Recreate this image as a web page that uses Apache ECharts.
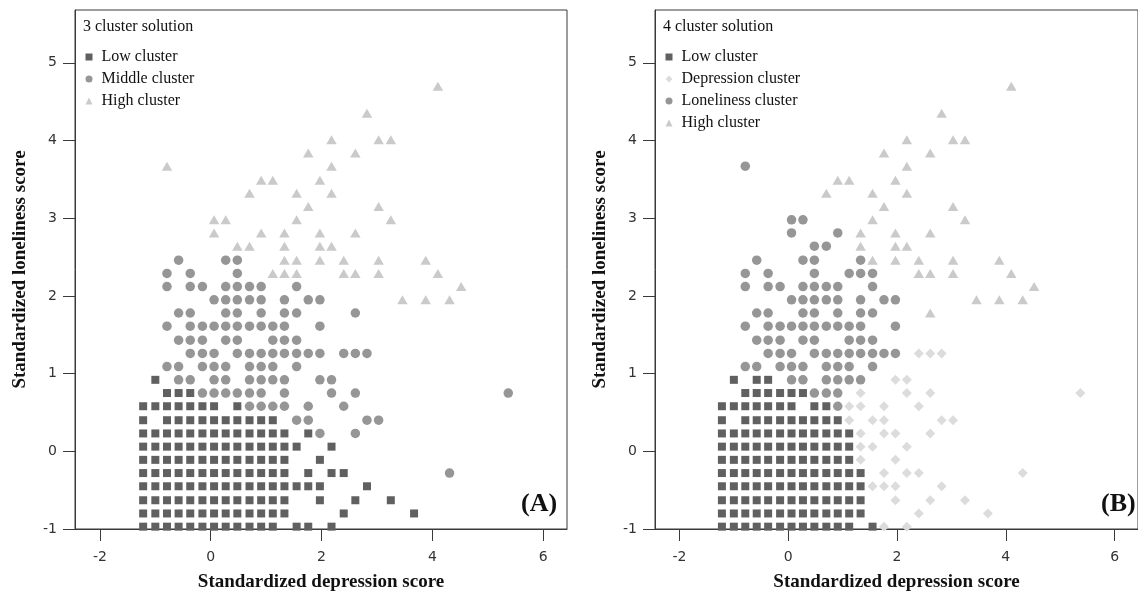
<!DOCTYPE html>
<html><head><meta charset="utf-8">
<script src="https://cdn.jsdelivr.net/npm/echarts@6/dist/echarts.min.js"></script>
<style>html,body{margin:0;padding:0;background:#fff}#c{width:1138px;height:600px}</style>
</head><body><div id="c"></div>
<script>
const xTicks=[-2,0,2,4,6];
const yTicks=[-1,0,1,2,3,4,5];
// rows: [loneliness score, [depression scores...]]
const lowA=[
[-0.97,[-1.22,-1.00,-0.79,-0.58,-0.37,-0.15,0.06,0.27,0.48,0.70,0.91,1.12,1.55,1.76,2.18]],
[-0.80,[-1.22,-1.00,-0.79,-0.58,-0.37,-0.15,0.06,0.27,0.48,0.70,0.91,1.12,1.33,2.40,3.67]],
[-0.63,[-1.22,-1.00,-0.79,-0.58,-0.37,-0.15,0.06,0.27,0.48,0.70,0.91,1.12,1.33,1.97,2.61,3.25]],
[-0.45,[-1.22,-1.00,-0.79,-0.58,-0.37,-0.15,0.06,0.27,0.48,0.70,0.91,1.12,1.33,1.55,1.76,1.97,2.82]],
[-0.28,[-1.22,-1.00,-0.79,-0.58,-0.37,-0.15,0.06,0.27,0.48,0.70,0.91,1.12,1.33,1.76,2.18,2.40]],
[-0.11,[-1.22,-1.00,-0.79,-0.58,-0.37,-0.15,0.06,0.27,0.48,0.70,0.91,1.12,1.33,1.97]],
[0.06,[-1.22,-1.00,-0.79,-0.58,-0.37,-0.15,0.06,0.27,0.48,0.70,0.91,1.12,1.33,1.55,2.18]],
[0.23,[-1.22,-1.00,-0.79,-0.58,-0.37,-0.15,0.06,0.27,0.48,0.70,0.91,1.12,1.33,1.76]],
[0.40,[-1.22,-0.79,-0.58,-0.37,-0.15,0.06,0.27,0.48,0.70,0.91,1.12]],
[0.58,[-1.22,-1.00,-0.79,-0.58,-0.37,-0.15,0.06,0.48]],
[0.75,[-0.79,-0.58,-0.37]],
[0.92,[-1.00]]
];
const middleA=[
[-0.28,[4.31]],
[0.23,[1.97,2.61]],
[0.40,[1.55,1.76,2.82,3.03]],
[0.58,[0.70,0.91,1.12,1.33,1.76,2.40]],
[0.75,[-0.15,0.06,0.27,0.48,0.70,0.91,1.33,2.18,2.61,5.37]],
[0.92,[-0.58,-0.37,0.06,0.27,0.70,0.91,1.12,1.33,1.97,2.18]],
[1.09,[-0.79,-0.58,-0.15,0.06,0.27,0.70,0.91,1.12,1.55]],
[1.26,[-0.37,-0.15,0.06,0.48,0.70,0.91,1.12,1.33,1.55,1.76,1.97,2.40,2.61,2.82]],
[1.43,[-0.58,-0.37,-0.15,0.27,0.48,1.12,1.33,1.55]],
[1.61,[-0.79,-0.37,-0.15,0.06,0.27,0.48,0.70,0.91,1.12,1.33,1.97]],
[1.78,[-0.58,-0.37,0.27,0.48,0.91,1.33,1.55,2.61]],
[1.95,[0.06,0.27,0.48,0.70,0.91,1.33,1.76,1.97]],
[2.12,[-0.79,-0.37,-0.15,0.27,0.48,0.70,0.91,1.55]],
[2.29,[-0.79,-0.37,0.48]],
[2.46,[-0.58,0.27,0.48]]
];
const highA=[
[1.95,[3.46,3.88,4.31]],
[2.12,[4.52]],
[2.29,[1.12,1.33,1.55,2.40,2.61,3.03,4.10]],
[2.46,[1.33,1.55,1.97,2.40,3.03,3.88]],
[2.64,[0.48,0.70,1.33,1.97,2.18]],
[2.81,[0.06,0.91,1.33,1.97,2.61]],
[2.98,[0.06,0.27,1.55,3.25]],
[3.15,[1.76,3.03]],
[3.32,[0.70,1.55,2.18]],
[3.49,[0.91,1.12,1.97]],
[3.67,[-0.79,2.18]],
[3.84,[1.76,2.61]],
[4.01,[2.18,3.03,3.25]],
[4.35,[2.82]],
[4.70,[4.10]]
];
const lowB=[
[-0.97,[-1.22,-1.00,-0.79,-0.58,-0.37,-0.15,0.06,0.27,0.48,0.70,0.91,1.12,1.55]],
[-0.80,[-1.22,-1.00,-0.79,-0.58,-0.37,-0.15,0.06,0.27,0.48,0.70,0.91,1.12,1.33]],
[-0.63,[-1.22,-1.00,-0.79,-0.58,-0.37,-0.15,0.06,0.27,0.48,0.70,0.91,1.12,1.33]],
[-0.45,[-1.22,-1.00,-0.79,-0.58,-0.37,-0.15,0.06,0.27,0.48,0.70,0.91,1.12,1.33]],
[-0.28,[-1.22,-1.00,-0.79,-0.58,-0.37,-0.15,0.06,0.27,0.48,0.70,0.91,1.12,1.33]],
[-0.11,[-1.22,-1.00,-0.79,-0.58,-0.37,-0.15,0.06,0.27,0.48,0.70,0.91,1.12]],
[0.06,[-1.22,-1.00,-0.79,-0.58,-0.37,-0.15,0.06,0.27,0.48,0.70,0.91,1.12]],
[0.23,[-1.22,-1.00,-0.79,-0.58,-0.37,-0.15,0.06,0.27,0.48,0.70,0.91,1.12]],
[0.40,[-1.22,-0.79,-0.58,-0.37,-0.15,0.06,0.27,0.48,0.70,0.91]],
[0.58,[-1.22,-1.00,-0.79,-0.58,-0.37,-0.15,0.06,0.48,0.70]],
[0.75,[-0.79,-0.58,-0.37,-0.15,0.06,0.27]],
[0.92,[-1.00,-0.58,-0.37]]
];
const depressionB=[
[-0.97,[1.76,2.18]],
[-0.80,[2.40,3.67]],
[-0.63,[1.97,2.61,3.25]],
[-0.45,[1.55,1.76,1.97,2.82]],
[-0.28,[1.76,2.18,2.40,4.31]],
[-0.11,[1.33,1.97]],
[0.06,[1.33,1.55,2.18]],
[0.23,[1.33,1.76,1.97,2.61]],
[0.40,[1.12,1.55,1.76,2.82,3.03]],
[0.58,[1.12,1.33,1.76,2.40]],
[0.75,[1.33,2.18,2.61,5.37]],
[0.92,[1.97,2.18]],
[1.26,[2.40,2.61,2.82]]
];
const lonelinessB=[
[0.58,[0.91]],
[0.75,[0.48,0.70,0.91]],
[0.92,[0.06,0.27,0.70,0.91,1.12,1.33]],
[1.09,[-0.79,-0.58,-0.15,0.06,0.27,0.70,0.91,1.12,1.55]],
[1.26,[-0.37,-0.15,0.06,0.48,0.70,0.91,1.12,1.33,1.55,1.76,1.97]],
[1.43,[-0.58,-0.37,-0.15,0.27,0.48,1.12,1.33,1.55]],
[1.61,[-0.79,-0.37,-0.15,0.06,0.27,0.48,0.70,0.91,1.12,1.33,1.97]],
[1.78,[-0.58,-0.37,0.27,0.48,0.91,1.33,1.55]],
[1.95,[0.06,0.27,0.48,0.70,0.91,1.33,1.76,1.97]],
[2.12,[-0.79,-0.37,-0.15,0.27,0.48,0.70,0.91,1.55]],
[2.29,[-0.79,-0.37,0.48,1.12,1.33,1.55]],
[2.46,[-0.58,0.27,0.48,1.33]],
[2.64,[0.48,0.70]],
[2.81,[0.06,0.91]],
[2.98,[0.06,0.27]],
[3.67,[-0.79]]
];
const highB=[
[1.78,[2.61]],
[1.95,[3.46,3.88,4.31]],
[2.12,[4.52]],
[2.29,[2.40,2.61,3.03,4.10]],
[2.46,[1.55,1.97,2.40,3.03,3.88]],
[2.64,[1.33,1.97,2.18]],
[2.81,[1.33,1.97,2.61]],
[2.98,[1.55,3.25]],
[3.15,[1.76,3.03]],
[3.32,[0.70,1.55,2.18]],
[3.49,[0.91,1.12,1.97]],
[3.67,[2.18]],
[3.84,[1.76,2.61]],
[4.01,[2.18,3.03,3.25]],
[4.35,[2.82]],
[4.70,[4.10]]
];

function flat(rows){const out=[];rows.forEach(r=>r[1].forEach(x=>out.push([x,r[0]])));return out;}

const C_LOW='#606060', C_MID='#969696', C_HIGH='#cacaca', C_DEP='#dcdcdc';
const SERIF='Liberation Serif, Times New Roman, serif';
const SANS='DejaVu Sans, sans-serif';
const frame='#3a3a3a';

function xAx(i){return {type:'value',gridIndex:i,min:-2.45,max:6.43,
  name:'Standardized depression score',nameLocation:'middle',nameGap:44,
  nameTextStyle:{fontFamily:SERIF,fontWeight:'bold',fontSize:19,color:'#111'},
  axisLine:{show:true,onZero:false,lineStyle:{color:frame,width:1}},
  axisTick:{show:true,length:12,inside:false,customValues:xTicks,lineStyle:{color:frame}},
  axisLabel:{customValues:xTicks,margin:21,fontFamily:SANS,fontSize:14,color:'#333'},
  splitLine:{show:false}};}
function yAx(i){return {type:'value',gridIndex:i,min:-1,max:5.68,
  name:'Standardized loneliness score',nameLocation:'middle',nameGap:45,
  nameTextStyle:{fontFamily:SERIF,fontWeight:'bold',fontSize:19,color:'#111'},
  axisLine:{show:true,onZero:false,lineStyle:{color:frame,width:1}},
  axisTick:{show:true,length:12,inside:false,customValues:yTicks,lineStyle:{color:frame}},
  axisLabel:{customValues:yTicks,margin:18,fontFamily:SANS,fontSize:14,color:'#333'},
  splitLine:{show:false}};}

function sc(name,rows,gi,symbol,size,color){
  return {name:name,type:'scatter',xAxisIndex:gi,yAxisIndex:gi,symbol:symbol,symbolSize:size,
    itemStyle:{color:color,opacity:1},emphasis:{disabled:true},data:flat(rows)};
}

function legend(left,names){
  return {orient:'vertical',left:left,top:49,padding:0,itemWidth:7,itemHeight:7,itemGap:6,
    data:names,selectedMode:false,
    textStyle:{fontFamily:SERIF,fontSize:16,color:'#111',lineHeight:16,padding:[0,0,0,4]}};
}

const chart=echarts.init(document.getElementById('c'),null,{renderer:'canvas'});
chart.setOption({
  animation:false,
  backgroundColor:'#fff',
  grid:[
    {left:75,top:10,width:492,height:519,show:true,borderColor:frame,borderWidth:1,backgroundColor:'transparent'},
    {left:655,top:10,width:492,height:519,show:true,borderColor:frame,borderWidth:1,backgroundColor:'transparent'}
  ],
  title:[
    {text:'3 cluster solution',left:83,top:19,padding:0,textStyle:{fontFamily:SERIF,fontWeight:'normal',fontSize:16,color:'#111'}},
    {text:'4 cluster solution',left:663,top:19,padding:0,textStyle:{fontFamily:SERIF,fontWeight:'normal',fontSize:16,color:'#111'}},
    {text:'(A)',left:521,top:491,padding:0,textStyle:{fontFamily:SERIF,fontWeight:'bold',fontSize:26,color:'#111'}},
    {text:'(B)',left:1101,top:491,padding:0,textStyle:{fontFamily:SERIF,fontWeight:'bold',fontSize:26,color:'#111'}}
  ],
  legend:[
    legend(85.5,['Low cluster','Middle cluster','High cluster']),
    legend(665.5,['Low cluster','Depression cluster','Loneliness cluster','High cluster'])
  ],
  xAxis:[xAx(0),xAx(1)],
  yAxis:[yAx(0),yAx(1)],
  series:[
    sc('Low cluster',lowA,0,'rect',8,C_LOW),
    sc('Middle cluster',middleA,0,'circle',9.5,C_MID),
    sc('High cluster',highA,0,'triangle',[10.5,9],C_HIGH),
    sc('Low cluster',lowB,1,'rect',8,C_LOW),
    sc('Depression cluster',depressionB,1,'diamond',10,C_DEP),
    sc('Loneliness cluster',lonelinessB,1,'circle',9.5,C_MID),
    sc('High cluster',highB,1,'triangle',[10.5,9],C_HIGH)
  ]
});
</script></body></html>
